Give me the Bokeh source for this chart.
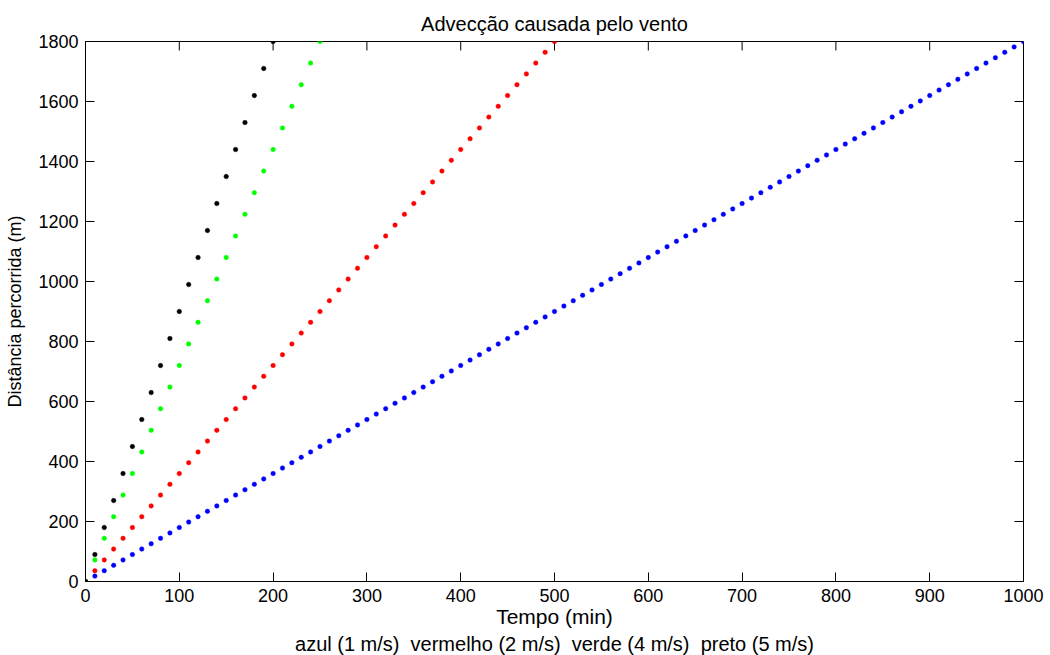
from bokeh.plotting import figure
from bokeh.models import Title, Range1d, FixedTicker
from bokeh.embed import file_html
from bokeh.resources import INLINE

# Tempo (min) and distance (m) for each wind speed
azul_t = [0, 10, 20, 30, 40, 50, 60, 70, 80, 90, 100, 110, 120, 130, 140, 150, 160, 170, 180, 190,
          200, 210, 220, 230, 240, 250, 260, 270, 280, 290, 300, 310, 320, 330, 340, 350, 360, 370, 380, 390,
          400, 410, 420, 430, 440, 450, 460, 470, 480, 490, 500, 510, 520, 530, 540, 550, 560, 570, 580, 590,
          600, 610, 620, 630, 640, 650, 660, 670, 680, 690, 700, 710, 720, 730, 740, 750, 760, 770, 780, 790,
          800, 810, 820, 830, 840, 850, 860, 870, 880, 890, 900, 910, 920, 930, 940, 950, 960, 970, 980, 990, 1000]
azul_d = [0, 18, 36, 54, 72, 90, 108, 126, 144, 162, 180, 198, 216, 234, 252, 270, 288, 306, 324, 342,
          360, 378, 396, 414, 432, 450, 468, 486, 504, 522, 540, 558, 576, 594, 612, 630, 648, 666, 684, 702,
          720, 738, 756, 774, 792, 810, 828, 846, 864, 882, 900, 918, 936, 954, 972, 990, 1008, 1026, 1044, 1062,
          1080, 1098, 1116, 1134, 1152, 1170, 1188, 1206, 1224, 1242, 1260, 1278, 1296, 1314, 1332, 1350, 1368, 1386, 1404, 1422,
          1440, 1458, 1476, 1494, 1512, 1530, 1548, 1566, 1584, 1602, 1620, 1638, 1656, 1674, 1692, 1710, 1728, 1746, 1764, 1782, 1800]

vermelho_t = [0, 10, 20, 30, 40, 50, 60, 70, 80, 90, 100, 110, 120, 130, 140, 150, 160, 170, 180, 190,
              200, 210, 220, 230, 240, 250, 260, 270, 280, 290, 300, 310, 320, 330, 340, 350, 360, 370, 380, 390,
              400, 410, 420, 430, 440, 450, 460, 470, 480, 490, 500]
vermelho_d = [0, 36, 72, 108, 144, 180, 216, 252, 288, 324, 360, 396, 432, 468, 504, 540, 576, 612, 648, 684,
              720, 756, 792, 828, 864, 900, 936, 972, 1008, 1044, 1080, 1116, 1152, 1188, 1224, 1260, 1296, 1332, 1368, 1404,
              1440, 1476, 1512, 1548, 1584, 1620, 1656, 1692, 1728, 1764, 1800]

verde_t = [0, 10, 20, 30, 40, 50, 60, 70, 80, 90, 100, 110, 120, 130, 140, 150, 160, 170, 180, 190,
           200, 210, 220, 230, 240, 250]
verde_d = [0, 72, 144, 216, 288, 360, 432, 504, 576, 648, 720, 792, 864, 936, 1008, 1080, 1152, 1224, 1296, 1368,
           1440, 1512, 1584, 1656, 1728, 1800]

preto_t = [0, 10, 20, 30, 40, 50, 60, 70, 80, 90, 100, 110, 120, 130, 140, 150, 160, 170, 180, 190, 200]
preto_d = [0, 90, 180, 270, 360, 450, 540, 630, 720, 810, 900, 990, 1080, 1170, 1260, 1350, 1440, 1530, 1620, 1710, 1800]

x_ticks = [0, 100, 200, 300, 400, 500, 600, 700, 800, 900, 1000]
y_ticks = [0, 200, 400, 600, 800, 1000, 1200, 1400, 1600, 1800]

FONT = "Liberation Sans"

W, H = 1050, 655
BL, BR, BT, BB = 85, 27, 41, 74
X0, X1, Y0, Y1 = 0, 1000, 0, 1800
TICK = 9

p = figure(width=W, height=H, output_backend="svg", toolbar_location=None,
           x_range=Range1d(X0, X1), y_range=Range1d(Y0, Y1),
           min_border_left=BL, min_border_right=BR, min_border_top=BT, min_border_bottom=BB,
           x_axis_label="Tempo (min)", y_axis_label="Distância percorrida (m)")

p.title.text = "Advecção causada pelo vento"
p.title.align = "center"
p.title.text_font = FONT
p.title.text_font_size = "20px"
p.title.text_font_style = "normal"
p.title.text_color = "black"
p.title.standoff = 14

p.xgrid.visible = False
p.ygrid.visible = False
p.outline_line_color = "black"
p.outline_line_width = 1
p.background_fill_color = "white"
p.border_fill_color = "white"

# inward ticks on the top and right edges (box on)
fw = W - BL - BR
fh = H - BT - BB
dy = TICK * (Y1 - Y0) / fh
dx = TICK * (X1 - X0) / fw
p.segment(x0=x_ticks, y0=[Y1] * len(x_ticks), x1=x_ticks, y1=[Y1 - dy] * len(x_ticks),
          line_color="black", line_width=1)
p.segment(x0=[X1] * len(y_ticks), y0=y_ticks, x1=[X1 - dx] * len(y_ticks), y1=y_ticks,
          line_color="black", line_width=1)

for s_t, s_d, c in [(azul_t, azul_d, "#0000ff"), (vermelho_t, vermelho_d, "#ff0000"),
                    (verde_t, verde_d, "#00ff00"), (preto_t, preto_d, "#000000")]:
    p.scatter(s_t, s_d, marker="circle", size=4.5, fill_color=c, line_color=c, line_width=0.5)

def style_axis(ax, ticks, label_size):
    ax.ticker = FixedTicker(ticks=ticks)
    ax.minor_tick_line_color = None
    ax.major_tick_in = TICK
    ax.major_tick_out = 0
    ax.axis_line_color = "black"
    ax.major_tick_line_color = "black"
    ax.major_label_text_font = FONT
    ax.major_label_text_font_size = "18px"
    ax.major_label_text_color = "black"
    ax.axis_label_text_font = FONT
    ax.axis_label_text_font_size = label_size
    ax.axis_label_text_font_style = "normal"
    ax.axis_label_text_color = "black"

style_axis(p.xaxis[0], x_ticks, "21px")
style_axis(p.yaxis[0], y_ticks, "18px")
p.xaxis[0].major_label_standoff = 7
p.xaxis[0].axis_label_standoff = 0
p.yaxis[0].major_label_standoff = 7
p.yaxis[0].axis_label_standoff = 10

leg = Title(text="azul (1 m/s)\u00a0 vermelho (2 m/s)\u00a0 verde (4 m/s)\u00a0 preto (5 m/s)",
            align="center", text_font=FONT, text_font_size="20px", text_font_style="normal",
            text_color="black", standoff=0)
p.add_layout(leg, "below")

open("out.html", "w").write(file_html(p, INLINE))
